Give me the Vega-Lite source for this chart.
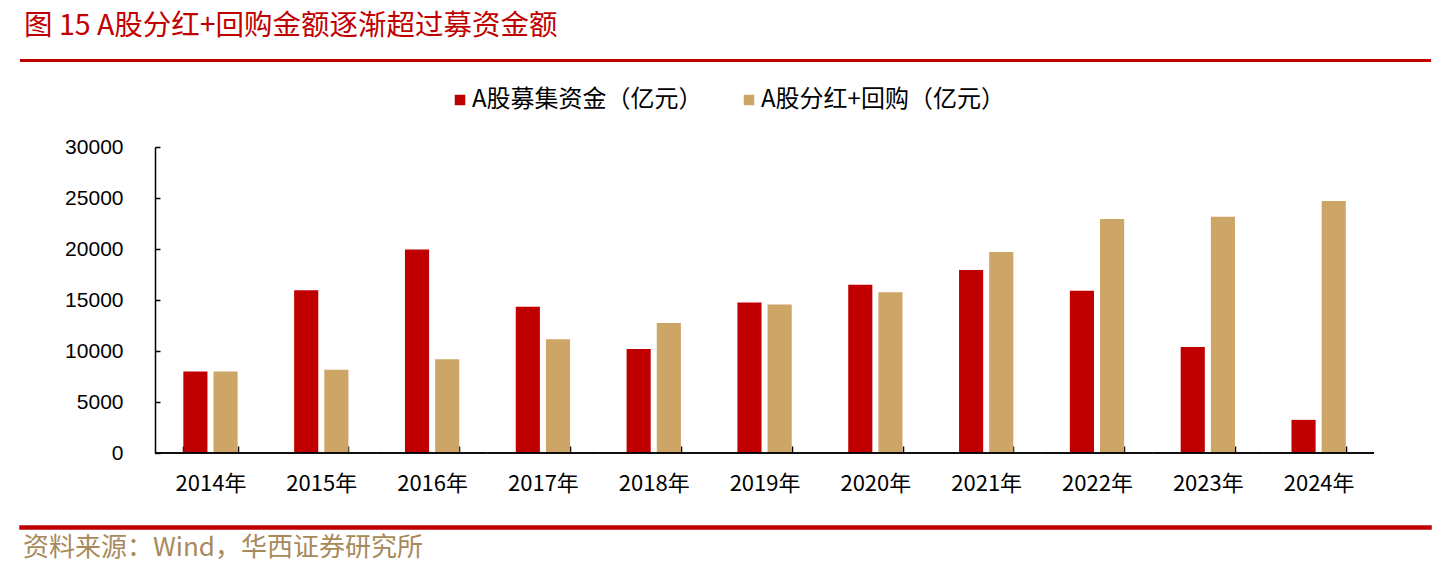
{
  "$schema": "https://vega.github.io/schema/vega-lite/v6.json",
  "background": "white",
  "padding": {"left": 19, "top": 10, "right": 0, "bottom": 0},
  "align": "none",
  "bounds": "full",
  "spacing": 26,
  "resolve": {"scale": {"color": "independent"}, "legend": {"color": "independent"}},
  "config": {
    "font": "Noto Sans CJK SC"
  },
  "vconcat": [
    {
      "width": 1409,
      "height": 1,
      "data": {"values": []},
      "mark": {"type": "point", "opacity": 0},
      "view": {"stroke": "#c00000", "strokeWidth": 2, "fill": "#c00000"},
      "title": {
        "text": "图 15 A股分红+回购金额逐渐超过募资金额",
        "orient": "top",
        "anchor": "start",
        "frame": "group",
        "font": "Noto Sans CJK SC",
        "fontSize": 28.5,
        "fontWeight": "normal",
        "color": "#c00000",
        "offset": 20,
        "dx": 3
      }
    },
    {
      "width": 1384.1,
      "height": 306,
      "view": {"stroke": null},
      "data": {
        "values": [
          {"year": "2014年", "series": "A股募集资金（亿元）", "value": 8000},
          {"year": "2014年", "series": "A股分红+回购（亿元）", "value": 8000},
          {"year": "2015年", "series": "A股募集资金（亿元）", "value": 15950},
          {"year": "2015年", "series": "A股分红+回购（亿元）", "value": 8150},
          {"year": "2016年", "series": "A股募集资金（亿元）", "value": 19950},
          {"year": "2016年", "series": "A股分红+回购（亿元）", "value": 9200},
          {"year": "2017年", "series": "A股募集资金（亿元）", "value": 14350},
          {"year": "2017年", "series": "A股分红+回购（亿元）", "value": 11150},
          {"year": "2018年", "series": "A股募集资金（亿元）", "value": 10200},
          {"year": "2018年", "series": "A股分红+回购（亿元）", "value": 12750},
          {"year": "2019年", "series": "A股募集资金（亿元）", "value": 14750},
          {"year": "2019年", "series": "A股分红+回购（亿元）", "value": 14550},
          {"year": "2020年", "series": "A股募集资金（亿元）", "value": 16500},
          {"year": "2020年", "series": "A股分红+回购（亿元）", "value": 15750},
          {"year": "2021年", "series": "A股募集资金（亿元）", "value": 17950},
          {"year": "2021年", "series": "A股分红+回购（亿元）", "value": 19700},
          {"year": "2022年", "series": "A股募集资金（亿元）", "value": 15900},
          {"year": "2022年", "series": "A股分红+回购（亿元）", "value": 22950},
          {"year": "2023年", "series": "A股募集资金（亿元）", "value": 10400},
          {"year": "2023年", "series": "A股分红+回购（亿元）", "value": 23150},
          {"year": "2024年", "series": "A股募集资金（亿元）", "value": 3250},
          {"year": "2024年", "series": "A股分红+回购（亿元）", "value": 24700}
        ]
      },
      "encoding": {
        "x": {
          "field": "year",
          "type": "nominal",
          "sort": null,
          "scale": {"paddingInner": 0.51, "paddingOuter": 1, "align": 0.7324},
          "axis": {
            "title": null,
            "labelAngle": 0,
            "labelFont": "Noto Sans CJK SC",
            "labelFontSize": 22,
            "labelColor": "#000000",
            "labelPadding": 27.5,
            "tickBand": "extent",
            "tickSize": -7,
            "tickColor": "#000000",
            "tickWidth": 1.5,
            "domain": false,
            "grid": false,
            "minExtent": 46
          }
        }
      },
      "layer": [
        {
          "mark": {"type": "bar"},
          "encoding": {
            "xOffset": {
              "field": "series",
              "type": "nominal",
              "sort": ["A股募集资金（亿元）", "A股分红+回购（亿元）"],
              "scale": {"paddingInner": 0.2, "paddingOuter": 0}
            },
            "y": {
              "field": "value",
              "type": "quantitative",
              "scale": {"domain": [0, 30000], "nice": false},
              "axis": {
                "title": null,
                "values": [0, 5000, 10000, 15000, 20000, 25000, 30000],
                "format": "d",
                "labelFont": "Liberation Sans",
                "labelFontSize": 21,
                "labelColor": "#000000",
                "labelPadding": 37,
                "tickSize": -5,
                "tickColor": "#000000",
                "tickWidth": 1.5,
                "domainColor": "#000000",
                "domainWidth": 1.5,
                "grid": false,
                "offset": -134
              }
            },
            "color": {
              "field": "series",
              "type": "nominal",
              "scale": {
                "domain": ["A股募集资金（亿元）", "A股分红+回购（亿元）"],
                "range": ["#c00000", "#cda566"]
              },
              "legend": {
                "title": null,
                "orient": "none",
                "direction": "horizontal",
                "legendX": 427,
                "legendY": -59,
                "padding": 0,
                "symbolType": "square",
                "symbolSize": 110,
                "symbolStrokeWidth": 0,
                "labelFont": "Noto Sans CJK SC",
                "labelFontSize": 24,
                "labelColor": "#000000",
                "labelOffset": 0,
                "labelLimit": 0,
                "columnPadding": 34
              }
            }
          }
        },
        {
          "mark": {"type": "tick", "orient": "horizontal", "size": 110.82, "thickness": 1.5, "color": "#000000", "opacity": 1},
          "encoding": {
            "y": {"datum": 0}
          }
        }
      ]
    },
    {
      "width": 1409,
      "height": 1,
      "data": {"values": []},
      "mark": {"type": "point", "opacity": 0},
      "view": {"stroke": "#c00000", "strokeWidth": 3.5, "fill": "#c00000"},
      "title": {
        "text": "资料来源：Wind，华西证券研究所",
        "orient": "bottom",
        "anchor": "start",
        "frame": "group",
        "font": "Noto Sans CJK SC",
        "fontSize": 26,
        "fontWeight": "normal",
        "color": "#a88a5a",
        "baseline": "top",
        "offset": 7,
        "dx": 2
      }
    }
  ]
}
